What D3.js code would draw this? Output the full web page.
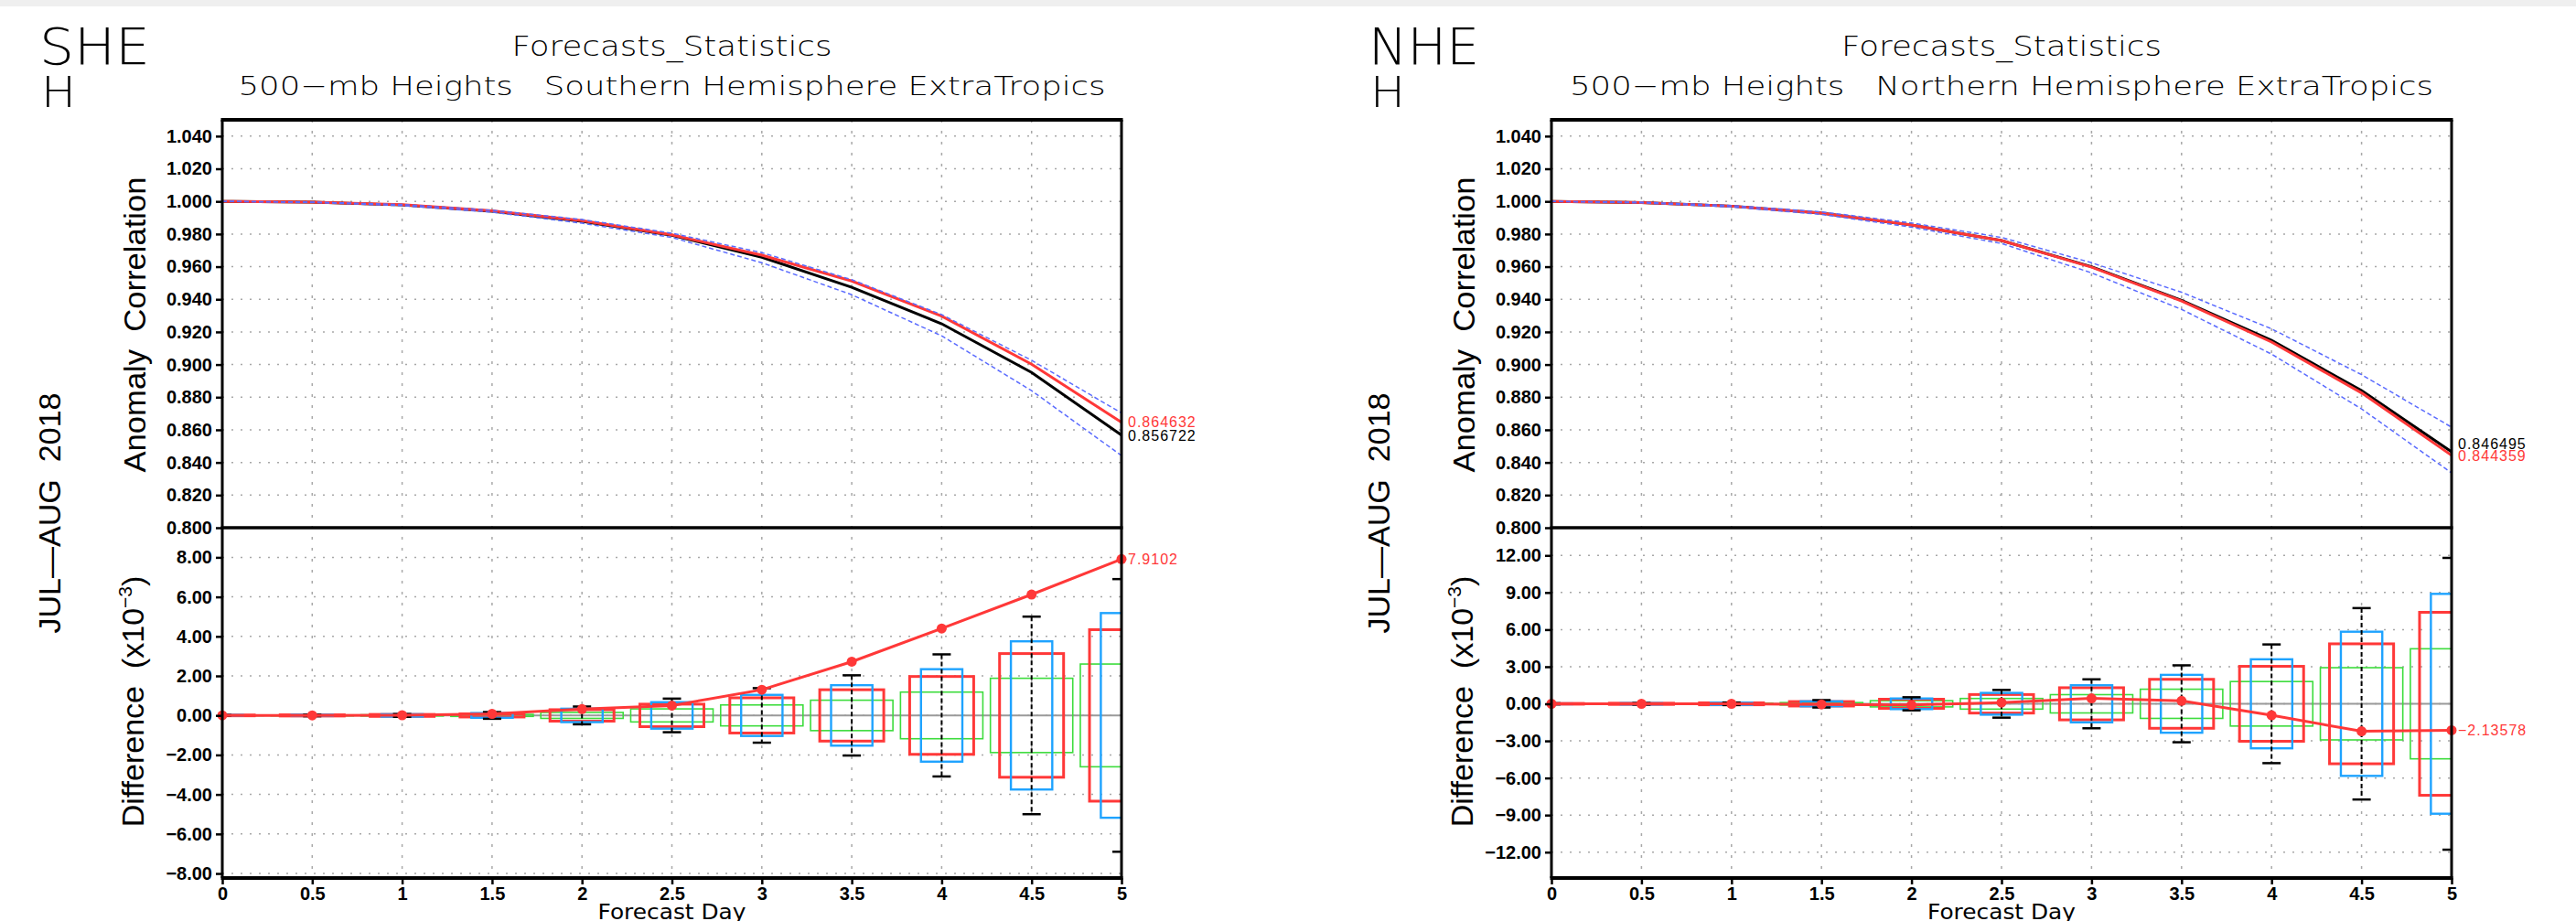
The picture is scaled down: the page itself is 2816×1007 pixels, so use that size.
<!DOCTYPE html>
<html><head><meta charset="utf-8">
<script src="https://cdn.jsdelivr.net/npm/d3@7"></script>
<style>body{margin:0;background:#fff;} svg{display:block;}</style>
</head><body>
<svg id="chart" width="2816" height="1007"></svg>
<script>
// ---------------- DATA ----------------
const days = [0, 0.5, 1, 1.5, 2, 2.5, 3, 3.5, 4, 4.5, 5];
const dayTickLabels = ["0","0.5","1","1.5","2","2.5","3","3.5","4","4.5","5"];
const acTicks = [0.80,0.82,0.84,0.86,0.88,0.90,0.92,0.94,0.96,0.98,1.00,1.02,1.04];
const acDomain = [0.8, 1.05];
const shDiffTicks = [-8,-6,-4,-2,0,2,4,6,8];
const nhDiffTicks = [-12,-9,-6,-3,0,3,6,9,12];
const shDiffDomain = [-8.23, 9.5];
const nhDiffDomain = [-14.09, 14.24];

// Anomaly correlation, Southern Hemisphere
const shAcBlack = [1.000,0.9995,0.9978,0.9940,0.9878,0.9792,0.9658,0.9474,0.9250,0.8952,0.856722];
const shAcRed   = [1.000,0.9995,0.9980,0.9942,0.9882,0.9795,0.9670,0.9512,0.9297,0.9002,0.864632];
const shAcBlueHi= [1.000,0.9996,0.9981,0.9946,0.9889,0.9805,0.9686,0.9520,0.9306,0.9026,0.8703];
const shAcBlueLo= [1.000,0.9994,0.9974,0.9934,0.9866,0.9779,0.9624,0.9428,0.9176,0.8840,0.8442];
// Anomaly correlation, Northern Hemisphere
const nhAcBlack = [1.000,0.9993,0.9971,0.9928,0.9855,0.9760,0.9600,0.9394,0.9148,0.8840,0.846495];
const nhAcRed   = [1.000,0.9993,0.9971,0.9928,0.9855,0.9760,0.9597,0.9390,0.9138,0.8826,0.844359];
const nhAcBlueHi= [1.000,0.9995,0.9975,0.9936,0.9868,0.9779,0.9624,0.9443,0.9219,0.8938,0.8616];
const nhAcBlueLo= [1.000,0.9991,0.9966,0.9920,0.9842,0.9742,0.9562,0.9338,0.9064,0.8728,0.8336];

// Differences (x10^-3), Southern Hemisphere
const shDiffMean = [0,0,0.01,0.08,0.32,0.50,1.30,2.72,4.40,6.12,7.9102];
const shGreenHalf= [0.01,0.02,0.03,0.05,0.15,0.33,0.53,0.77,1.18,1.88,2.60];
const shRedHalf  = [0.02,0.03,0.05,0.08,0.29,0.57,0.89,1.30,1.97,3.13,4.34];
const shBlueHalf = [0.02,0.03,0.06,0.12,0.34,0.67,1.04,1.53,2.34,3.75,5.18];
const shWhisker  = [0.02,0.04,0.07,0.17,0.45,0.85,1.38,2.03,3.09,5.00,6.90];
// Differences (x10^-3), Northern Hemisphere
const nhDiffMean = [0,0,0,-0.05,-0.10,0.10,0.44,0.24,-0.93,-2.22,-2.13578];
const nhGreenHalf= [0.01,0.03,0.05,0.10,0.25,0.43,0.74,1.18,1.80,2.92,4.45];
const nhRedHalf  = [0.03,0.05,0.08,0.18,0.37,0.75,1.30,1.98,3.03,4.85,7.40];
const nhBlueHalf = [0.03,0.05,0.09,0.20,0.43,0.88,1.50,2.34,3.60,5.83,8.89];
const nhWhisker  = [0.04,0.06,0.10,0.30,0.53,1.12,1.98,3.11,4.80,7.74,11.80];

const shLabels = {region:"SHE", region2:"H", title1:"Forecasts_Statistics",
  title2:"500\u2212mb Heights   Southern Hemisphere ExtraTropics", lastDiff:"7.9102"};
const nhLabels = {region:"NHE", region2:"H", title1:"Forecasts_Statistics",
  title2:"500\u2212mb Heights   Northern Hemisphere ExtraTropics", lastDiff:"\u22122.13578"};

// ---------------- DRAW ----------------
const svg = d3.select("#chart");
svg.append("rect").attr("x",0).attr("y",0).attr("width",2816).attr("height",1007).attr("fill","#fff");
svg.append("rect").attr("x",0).attr("y",0).attr("width",2816).attr("height",7).attr("fill","#efefef");

const panels = [
  {id:"sh", dx:0, x0:243, x1:1226, t2len:948, lab:shLabels,
   acB:shAcBlack, acR:shAcRed, acHi:shAcBlueHi, acLo:shAcBlueLo,
   mean:shDiffMean, gH:shGreenHalf, rH:shRedHalf, bH:shBlueHalf, wH:shWhisker,
   dDom:shDiffDomain, dTicks:shDiffTicks},
  {id:"nh", dx:1453, x0:1696, x1:2680, t2len:944, lab:nhLabels,
   acB:nhAcBlack, acR:nhAcRed, acHi:nhAcBlueHi, acLo:nhAcBlueLo,
   mean:nhDiffMean, gH:nhGreenHalf, rH:nhRedHalf, bH:nhBlueHalf, wH:nhWhisker,
   dDom:nhDiffDomain, dTicks:nhDiffTicks}
];

const TOP=131, MID=577, BOT=960;
const RED="#ff3838", BLACK="#000", DBLUE="#5a6bff", BBLUE="#1ea3ff", GREEN="#3ddc3d", GRID="#a8a8a8";
const tickFont = "'Liberation Sans', Arial, sans-serif";
const titleFont = "'DejaVu Sans', sans-serif";

panels.forEach(p => {
  const g = svg.append("g");
  const cx = (p.x0 + p.x1)/2;
  const x = d3.scaleLinear().domain([0,5]).range([p.x0, p.x1]);
  const yT = d3.scaleLinear().domain(acDomain).range([MID, TOP]);
  const yB = d3.scaleLinear().domain(p.dDom).range([BOT, MID]);

  // clip for lower panel
  g.append("clipPath").attr("id","clipB"+p.id).append("rect")
    .attr("x",p.x0).attr("y",MID).attr("width",p.x1-p.x0).attr("height",BOT-MID);

  // --- titles
  g.append("text").attr("x",43+p.dx).attr("y",70).attr("font-family",titleFont)
    .attr("font-size",56).attr("font-weight",200).attr("textLength",121).attr("lengthAdjust","spacingAndGlyphs")
    .text(p.lab.region);
  g.append("text").attr("x",45+p.dx).attr("y",117).attr("font-family",titleFont)
    .attr("font-size",46).attr("font-weight",200).attr("textLength",38).attr("lengthAdjust","spacingAndGlyphs")
    .text(p.lab.region2);
  g.append("text").attr("x",cx).attr("y",61).attr("text-anchor","middle").attr("font-family",titleFont)
    .attr("font-size",30).attr("font-weight",200).attr("textLength",350).attr("lengthAdjust","spacingAndGlyphs")
    .text(p.lab.title1);
  g.append("text").attr("x",cx).attr("y",104).attr("text-anchor","middle").attr("font-family",titleFont)
    .attr("font-size",29).attr("font-weight",200).attr("textLength",p.t2len).attr("lengthAdjust","spacingAndGlyphs")
    .style("white-space","pre").text(p.lab.title2);

  // --- side labels
  g.append("text").attr("transform",`translate(${159+p.dx},355) rotate(-90)`).attr("text-anchor","middle")
    .attr("font-family",tickFont).attr("font-size",34).attr("textLength",323).attr("lengthAdjust","spacingAndGlyphs")
    .style("white-space","pre").text("Anomaly  Correlation");
  g.append("text").attr("transform",`translate(${66+p.dx},561) rotate(-90)`).attr("text-anchor","middle")
    .attr("font-family",tickFont).attr("font-size",34).attr("textLength",263).attr("lengthAdjust","spacingAndGlyphs")
    .style("white-space","pre").text("JUL\u2014AUG  2018");
  const dl = g.append("text").attr("transform",`translate(${157+p.dx},767) rotate(-90)`).attr("text-anchor","middle")
    .attr("font-family",tickFont).attr("font-size",34).style("white-space","pre");
  dl.append("tspan").text("Difference  (x10");
  dl.append("tspan").attr("font-size",21).attr("dy",-13).text("\u22123");
  dl.append("tspan").attr("dy",13).text(")");

  // --- grid
  const gridV = days.filter(d => d > 0 && d < 5);
  g.selectAll(".gv").data(gridV).enter().append("line")
    .attr("x1",d=>x(d)).attr("x2",d=>x(d)).attr("y1",TOP).attr("y2",BOT)
    .attr("stroke",GRID).attr("stroke-width",1.5).attr("stroke-dasharray","3,9");
  g.selectAll(".gt").data(acTicks.filter(v=>v>0.81)).enter().append("line")
    .attr("x1",p.x0).attr("x2",p.x1).attr("y1",d=>yT(d)).attr("y2",d=>yT(d))
    .attr("stroke",GRID).attr("stroke-width",1.5).attr("stroke-dasharray","2,8");
  g.selectAll(".gb").data(p.dTicks).enter().append("line")
    .attr("x1",p.x0).attr("x2",p.x1).attr("y1",d=>yB(d)).attr("y2",d=>yB(d))
    .attr("stroke",GRID).attr("stroke-width",1.5).attr("stroke-dasharray","2,8");

  // --- upper panel lines
  const lineT = arr => d3.line().x((d,i)=>x(days[i])).y(d=>yT(d))(arr);
  g.append("path").attr("d",lineT(p.acB)).attr("fill","none").attr("stroke",BLACK).attr("stroke-width",3);
  g.append("path").attr("d",lineT(p.acR)).attr("fill","none").attr("stroke",RED).attr("stroke-width",3);
  [p.acHi, p.acLo].forEach(a => g.append("path").attr("d",lineT(a)).attr("fill","none")
    .attr("stroke",DBLUE).attr("stroke-width",1.5).attr("stroke-dasharray","5,3"));

  // end labels upper
  const L = days.length - 1;
  let yb = yT(p.acB[L]), yr = yT(p.acR[L]);
  if (yb > yr) { yr = Math.min(yr, yb - 13); } else { yb = Math.min(yb, yr - 13); }
  const fmt6 = d3.format(".6f");
  g.append("text").attr("x",p.x1+7).attr("y",yr).attr("dy","0.36em").attr("fill",RED)
    .attr("font-family",tickFont).attr("font-size",16).attr("letter-spacing",1).text(fmt6(p.acR[L]));
  g.append("text").attr("x",p.x1+7).attr("y",yb).attr("dy","0.36em").attr("fill",BLACK)
    .attr("font-family",tickFont).attr("font-size",16).attr("letter-spacing",1).text(fmt6(p.acB[L]));

  // --- lower panel
  g.append("line").attr("x1",p.x0).attr("x2",p.x1).attr("y1",yB(0)).attr("y2",yB(0))
    .attr("stroke","#9a9a9a").attr("stroke-width",2);
  const cl = g.append("g").attr("clip-path",`url(#clipB${p.id})`);
  const boxes = [
    {half:p.gH, w:0.229, col:GREEN, sw:1.6},
    {half:p.rH, w:0.178, col:RED, sw:3},
    {half:p.bH, w:0.115, col:BBLUE, sw:2.4}
  ];
  boxes.forEach(b => {
    cl.selectAll(null).data(days).enter().append("rect")
      .attr("x",d=>x(d-b.w)).attr("width",d=>x(d+b.w)-x(d-b.w))
      .attr("y",(d,i)=>yB(b.half[i])).attr("height",(d,i)=>yB(-b.half[i])-yB(b.half[i]))
      .attr("fill","none").attr("stroke",b.col).attr("stroke-width",b.sw);
  });
  cl.selectAll(null).data(days).enter().append("line")
    .attr("x1",d=>x(d)).attr("x2",d=>x(d))
    .attr("y1",(d,i)=>yB(p.wH[i])).attr("y2",(d,i)=>yB(-p.wH[i]))
    .attr("stroke",BLACK).attr("stroke-width",2).attr("stroke-dasharray","5,3");
  [1,-1].forEach(s => {
    cl.selectAll(null).data(days).enter().append("line")
      .attr("x1",d=>x(d)-10).attr("x2",d=>x(d)+10)
      .attr("y1",(d,i)=>yB(s*p.wH[i])).attr("y2",(d,i)=>yB(s*p.wH[i]))
      .attr("stroke",BLACK).attr("stroke-width",2.5);
  });
  const lineB = d3.line().x((d,i)=>x(days[i])).y(d=>yB(d));
  g.append("path").attr("d",lineB(p.mean)).attr("fill","none").attr("stroke",RED).attr("stroke-width",3);
  g.selectAll(null).data(p.mean).enter().append("circle")
    .attr("cx",(d,i)=>x(days[i])).attr("cy",d=>yB(d)).attr("r",5.5).attr("fill",RED);
  g.append("text").attr("x",p.x1+7).attr("y",yB(p.mean[L])).attr("dy","0.36em").attr("fill",RED)
    .attr("font-family",tickFont).attr("font-size",16).attr("letter-spacing",1).text(p.lab.lastDiff);

  // --- axes
  const styleAxis = sel => {
    sel.select(".domain").remove();
    sel.selectAll(".tick line").attr("stroke","#000").attr("stroke-width",2.5);
    sel.selectAll(".tick text").attr("font-family",tickFont).attr("font-size",20)
      .attr("font-weight","bold").attr("fill","#000");
  };
  g.append("g").attr("transform",`translate(${p.x0},0)`)
    .call(d3.axisLeft(yT).tickValues(acTicks).tickSize(7).tickPadding(4).tickFormat(d3.format(".3f")))
    .call(styleAxis);
  g.append("g").attr("transform",`translate(${p.x0},0)`)
    .call(d3.axisLeft(yB).tickValues(p.dTicks).tickSize(7).tickPadding(4).tickFormat(d3.format(".2f")))
    .call(styleAxis);
  g.append("g").attr("transform",`translate(0,${BOT})`)
    .call(d3.axisBottom(x).tickValues(days).tickSize(7).tickPadding(3).tickFormat((d,i)=>dayTickLabels[i]))
    .call(styleAxis);
  g.append("text").attr("x",cx).attr("y",1005).attr("text-anchor","middle").attr("font-family",titleFont)
    .attr("font-size",23).attr("fill","#000").attr("textLength",162).attr("lengthAdjust","spacingAndGlyphs")
    .style("white-space","pre").text("Forecast Day");

  // --- frame
  g.append("line").attr("x1",p.x0).attr("x2",p.x0).attr("y1",TOP).attr("y2",BOT).attr("stroke","#000").attr("stroke-width",3);
  g.append("line").attr("x1",p.x1).attr("x2",p.x1).attr("y1",TOP).attr("y2",BOT).attr("stroke","#000").attr("stroke-width",3);
  g.append("line").attr("x1",p.x0-1.5).attr("x2",p.x1+1.5).attr("y1",TOP).attr("y2",TOP).attr("stroke","#000").attr("stroke-width",4);
  g.append("line").attr("x1",p.x0-1.5).attr("x2",p.x1+1.5).attr("y1",MID).attr("y2",MID).attr("stroke","#000").attr("stroke-width",3.5);
  g.append("line").attr("x1",p.x0-1.5).attr("x2",p.x1+1.5).attr("y1",BOT).attr("y2",BOT).attr("stroke","#000").attr("stroke-width",4);
});
</script>
</body></html>
